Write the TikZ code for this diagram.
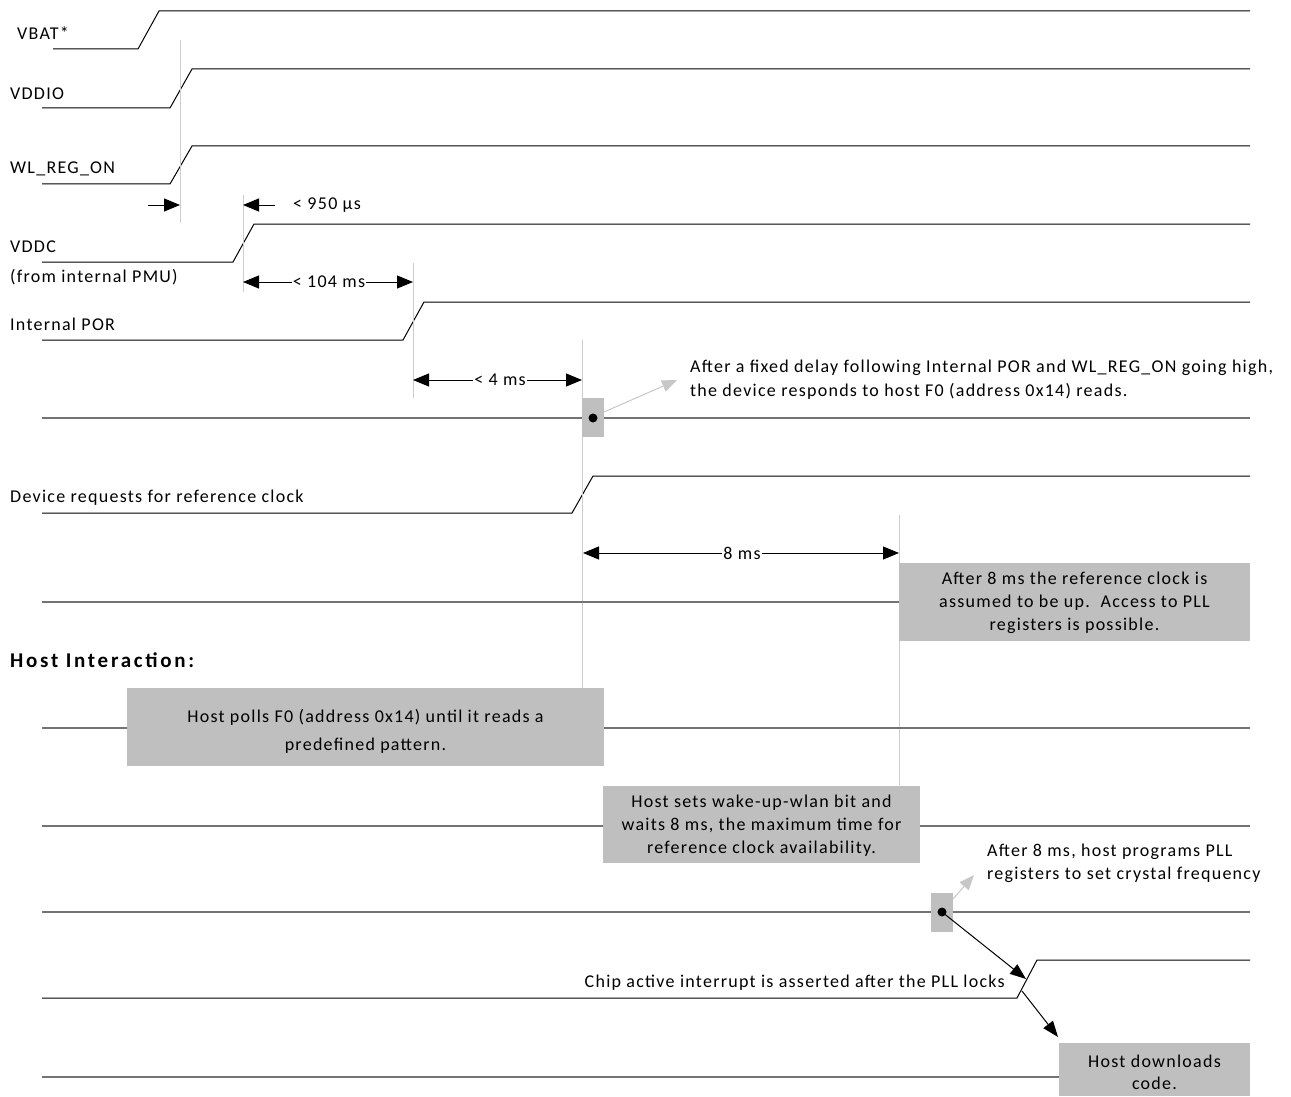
\documentclass[tikz,border=0pt]{standalone}
\usepackage{fontspec}
\setmainfont[LetterSpace=7]{Carlito}
\usetikzlibrary{arrows.meta}
\begin{document}
\begin{tikzpicture}[x=1pt,y=-1pt,
  sig/.style={draw=black, line width=1pt},
  act/.style={draw=black!55, line width=1.6pt},
  guide/.style={draw=black!20, line width=1pt},
  lbl/.style={anchor=west, inner sep=0pt, font=\fontsize{18}{21}\selectfont},
  dim/.style={line width=1pt, {Triangle[length=16pt,width=13pt]}-{Triangle[length=16pt,width=13pt]}},
  onearrow/.style={line width=1pt, -{Triangle[length=16pt,width=13pt]}},
  grayarrow/.style={draw=black!22, line width=1pt, -{Triangle[length=15pt,width=12pt,fill=black!22]}},
  blkarrow/.style={draw=black, line width=1pt, -{Triangle[length=16pt,width=12pt]}},
  dimtext/.style={fill=white, inner xsep=1pt, inner ysep=0pt, font=\fontsize{18}{21}\selectfont},
  gbox/.style={fill=black!25, draw=none, inner sep=0pt},
  boxtext/.style={align=center, inner sep=0pt, font=\fontsize{18}{23}\selectfont},
  marker/.style={fill=black!25, draw=none, minimum width=22pt, minimum height=39pt, inner sep=0pt},
  dot/.style={circle, fill=black, minimum size=9pt, inner sep=0pt}
]
\useasboundingbox (0,0) rectangle (1291,1097);

% ---- signals ----
\node[lbl] (vbat) at (17,33) {VBAT*};
\draw[sig] (53,49) -- (138,49) -- (159,11) -- (1250,11);

\node[lbl] (vddio) at (10,94) {VDDIO};
\draw[sig] (42,108) -- (170,108) -- (192,69) -- (1250,69);

\node[lbl] (wlreg) at (10,169) {WL\_REG\_ON};
\draw[sig] (42,184) -- (170,184) -- (192,146) -- (1250,146);

\node[lbl] (vddc) at (10,247) {VDDC};
\node[lbl] (pmu) at (10,277) {(from internal PMU)};
\draw[sig] (42,262) -- (233,262) -- (254,224) -- (1250,224);

\node[lbl] (por) at (10,324) {Internal POR};
\draw[sig] (42,340) -- (403,340) -- (424,302) -- (1250,302);

\node[lbl] (devreq) at (10,498) {Device requests for reference clock};
\draw[sig] (42,513) -- (572,513) -- (593,476) -- (1250,476);

\node[lbl, font=\fontsize{21}{24}\selectfont\bfseries\addfontfeature{LetterSpace=13}] (host) at (10,660) {Host Interaction:};

% ---- guide lines ----
\coordinate (g1a) at (180,40);  \coordinate (g1b) at (180,223);
\coordinate (g2a) at (243,195); \coordinate (g2b) at (243,292);
\coordinate (g3a) at (413,263); \coordinate (g3b) at (413,398);
\coordinate (g4a) at (582,340); \coordinate (g4b) at (582,688);
\coordinate (g5a) at (899,515); \coordinate (g5b) at (899,785);
\draw[guide] (g1a) -- (g1b);
\draw[guide] (g2a) -- (g2b);
\draw[guide] (g3a) -- (g3b);
\draw[guide] (g4a) -- (g4b);
\draw[guide] (g5a) -- (g5b);

% ---- timing dimensions ----
\coordinate (a1s) at (148,205); \coordinate (a1e) at (180,205);
\draw[onearrow] (a1s) -- (a1e);
\coordinate (a2s) at (275,205); \coordinate (a2e) at (243,205);
\draw[onearrow] (a2s) -- (a2e);
\node[lbl] (t950) at (293,205) {< 950 µs};

\coordinate (d1a) at (243,282); \coordinate (d1b) at (413,282);
\draw[dim] (d1a) -- (d1b);
\node[dimtext] (t104) at (329,282) {< 104 ms};

\coordinate (d2a) at (413,380); \coordinate (d2b) at (582,380);
\draw[dim] (d2a) -- (d2b);
\node[dimtext] (t4) at (500,380) {< 4 ms};

\coordinate (d3a) at (583,553); \coordinate (d3b) at (899,553);
\draw[dim] (d3a) -- (d3b);
\node[dimtext] (t8) at (742,553) {8 ms};

% ---- action rows ----
\draw[act] (42,418) -- (1250,418);
\node[marker] (m1) at (593,417.5) {};
\node[dot] (dot1) at (593,418) {};
\coordinate (m1o) at (604,412);
\coordinate (m1t) at (677,380);
\draw[grayarrow] (m1o) -- (m1t);
\node[lbl] (note1a) at (690,368) {After a fixed delay following Internal POR and WL\_REG\_ON going high,};
\node[lbl] (note1b) at (690,391) {the device responds to host F0 (address 0x14) reads.};

\draw[act] (42,602) -- (899,602);
\node[gbox, minimum width=351pt, minimum height=78pt] (b1) at (1074.5,602) {};
\node[boxtext] (b1t) at (1074.5,603)
  {After 8 ms the reference clock is\\assumed to be up.\ \ Access to PLL\\registers is possible.};

\draw[act] (42,728) -- (1250,728);
\node[gbox, minimum width=477pt, minimum height=78pt] (b2) at (365.5,727) {};
\node[boxtext, font=\fontsize{18}{28}\selectfont] (b2t) at (365.5,731)
  {Host polls F0 (address 0x14) until it reads a\\predefined pattern.};

\draw[act] (42,826) -- (1250,826);
\node[gbox, minimum width=317pt, minimum height=77pt] (b3) at (761.5,824.5) {};
\node[boxtext] (b3t) at (761.5,825.5)
  {Host sets wake-up-wlan bit and\\waits 8 ms, the maximum time for\\reference clock availability.};

\draw[act] (42,912) -- (1250,912);
\node[marker] (m2) at (942,912.5) {};
\node[dot] (dot2) at (942,912) {};
\coordinate (m2o) at (953,899);
\coordinate (m2t) at (974,875);
\draw[grayarrow] (m2o) -- (m2t);
\node[lbl] (note2a) at (987,852) {After 8 ms, host programs PLL};
\node[lbl] (note2b) at (987,875) {registers to set crystal frequency};

\draw[sig] (42,998) -- (1017,998) -- (1037,960) -- (1250,960);
\node[lbl, anchor=east] (chip) at (1005,983) {Chip active interrupt is asserted after the PLL locks};
\coordinate (edge) at (1026,979);
\draw[blkarrow] (dot2.center) -- (edge);
\coordinate (edge2) at (1022,991);
\coordinate (dl) at (1058,1037);
\draw[blkarrow] (edge2) -- (dl);

\draw[act] (42,1077) -- (1059,1077);
\node[gbox, minimum width=191pt, minimum height=53pt] (b4) at (1154.5,1069.5) {};
\node[boxtext, font=\fontsize{18}{22}\selectfont] (b4t) at (1154.5,1072.5)
  {Host downloads\\code.};
\end{tikzpicture}
\end{document}
